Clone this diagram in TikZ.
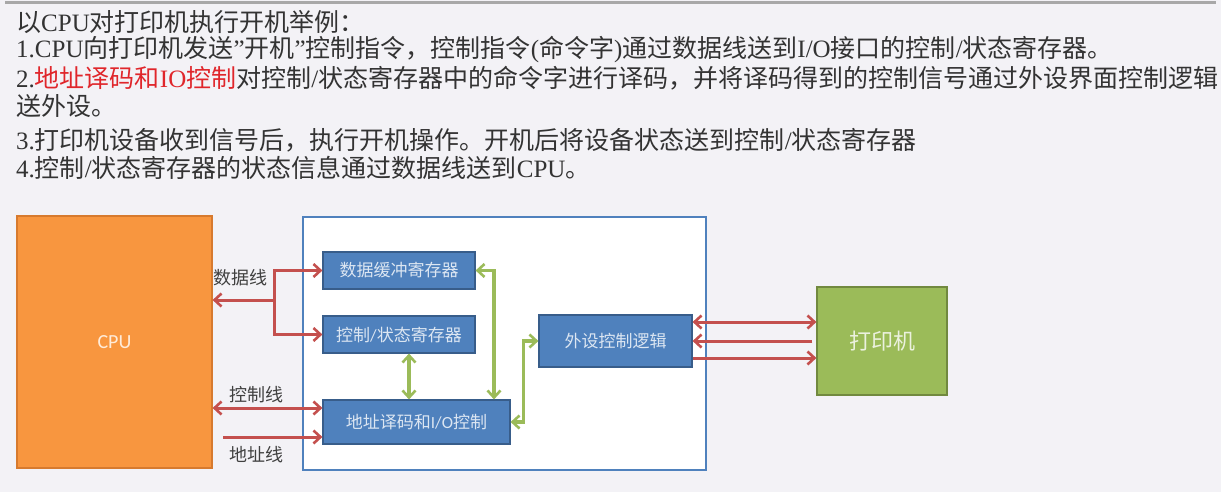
\documentclass[tikz,border=0pt]{standalone}
\usepackage{fontspec}
\setmainfont{Liberation Serif}
\newfontfamily\cjk{Noto Sans CJK SC}
\newfontfamily\sansf{Carlito}
\usetikzlibrary{arrows.meta}
\definecolor{bg}{HTML}{F3F2F6}
\definecolor{rulec}{HTML}{A8A8A8}
\definecolor{txtc}{HTML}{333333}
\definecolor{hl}{HTML}{E0262B}
\definecolor{cpuf}{HTML}{F8963F}
\definecolor{cpud}{HTML}{D77A2E}
\definecolor{cputxt}{HTML}{FFEBD9}
\definecolor{bluef}{HTML}{4F81BD}
\definecolor{blued}{HTML}{385D8A}
\definecolor{bluetxt}{HTML}{DCE6F2}
\definecolor{greenf}{HTML}{9BBB59}
\definecolor{greend}{HTML}{71893F}
\definecolor{greentxt}{HTML}{EBF1DE}
\definecolor{redl}{HTML}{C4504E}
\definecolor{greenl}{HTML}{9BBB59}
\definecolor{ifc}{HTML}{4F81BD}
\definecolor{lblc}{HTML}{404040}
\tikzset{
  barb/.tip={Straight Barb[length=7pt,width=13pt,line width=2.6pt]},
  txtline/.style={anchor=west, inner sep=0pt, text=txtc, font=\fontsize{25}{25}\selectfont},
  bluebox/.style={draw=blued, fill=bluef, line width=1.2pt, inner sep=0pt, text=bluetxt, font=\fontsize{17}{17}\selectfont},
  redline/.style={draw=redl, line width=3pt, arrows={-barb}},
  redboth/.style={redline, arrows={barb-barb}},
  greenboth/.style={draw=greenl, line width=3.2pt, arrows={barb-barb}},
  lbl/.style={inner sep=0pt, text=lblc, font=\cjk\fontsize{18}{18}\selectfont}
}
\begin{document}
\begin{tikzpicture}[x=1pt,y=-1pt]
\fill[bg] (0,0) rectangle (1221,492);
\useasboundingbox (0,0) rectangle (1221,492);
\draw[rulec, line width=3pt] (5,3) -- (1216,3);

% text lines
\node[txtline] (l1) at (16,22) {{\cjk 以}CPU{\cjk 对打印机执行开机举例：}};
\node[txtline] (l2) at (16,50) {1.CPU{\cjk 向打印机发送}”{\cjk 开机}”{\cjk 控制指令，控制指令}({\cjk 命令字}){\cjk 通过数据线送到}I/O{\cjk 接口的控制}/{\cjk 状态寄存器。}};
\node[txtline] (l3) at (16,78) {2.{\color{hl}{\cjk 地址译码和}IO{\cjk 控制}}{\cjk 对控制}/{\cjk 状态寄存器中的命令字进行译码，并将译码得到的控制信号通过外设界面控制逻辑}};
\node[txtline] (l4) at (16,106) {{\cjk 送外设。}};
\node[txtline] (l5) at (16,140) {3.{\cjk 打印机设备收到信号后，执行开机操作。开机后将设备状态送到控制}/{\cjk 状态寄存器}};
\node[txtline] (l6) at (16,168) {4.{\cjk 控制}/{\cjk 状态寄存器的状态信息通过数据线送到}CPU{\cjk 。}};

% boxes
\node[draw=cpud, fill=cpuf, line width=1.2pt, minimum width=195pt, minimum height=252pt, inner sep=0pt, text=cputxt, font=\sansf\fontsize{20}{20}\selectfont] (cpu) at (114.5,342) {CPU};
\node[draw=ifc, fill=white, line width=1.5pt, minimum width=403pt, minimum height=253pt, inner sep=0pt] (iface) at (504.5,343.5) {};
\node[bluebox, minimum width=152pt, minimum height=37pt] (dbuf) at (399,270.5) {\cjk 数据缓冲寄存器};
\node[bluebox, minimum width=152pt, minimum height=37pt] (csr) at (399,334.5) {{\cjk 控制}{\sansf /}{\cjk 状态寄存器}};
\node[bluebox, minimum width=187pt, minimum height=44pt] (addr) at (416.5,422) {{\cjk 地址译码和}{\sansf I/O}{\cjk 控制}};
\node[bluebox, minimum width=153pt, minimum height=52pt] (pcl) at (615.5,341) {\cjk 外设控制逻辑};
\node[draw=greend, fill=greenf, line width=1.2pt, minimum width=130pt, minimum height=108pt, inner sep=0pt, text=greentxt, font=\cjk\fontsize{22}{22}\selectfont] (prn) at (882,341) {打印机};

% red connectors (CPU side)
\coordinate (dj) at (274,300);
\draw[redline] (dj) |- (dbuf.west);
\draw[redline] (dj) |- (csr.west);
\draw[redline] (dj) -- (cpu.east |- dj);
\coordinate (ctl) at ([yshift=14pt]addr.west);
\draw[redboth] (cpu.east |- ctl) -- (ctl);
\coordinate (adr) at ([yshift=-15pt]addr.west);
\coordinate (adrs) at (223,437);
\draw[redline] (adrs) -- (adr);

\node[lbl] (tdata) at (240.5,278) {数据线};
\node[lbl] (tctl) at (256.5,395) {控制线};
\node[lbl] (taddr) at (256.5,455) {地址线};

% green connectors
\draw[greenboth] ([xshift=10pt]csr.south) -- ([xshift=10pt]csr.south |- addr.north);
\draw[greenboth] (dbuf.east) -| ([xshift=77.5pt]addr.north);
\draw[greenboth] (addr.east) -- ++(13,0) |- (pcl.west);

% red connectors (printer side)
\coordinate (p1) at ([yshift=19pt]pcl.east);
\draw[redboth] (p1) -- (p1 -| prn.west);
\draw[redline] ([xshift=-4pt]prn.west) -- (pcl.east);
\coordinate (p3) at ([yshift=-17pt]pcl.east);
\draw[redline] (p3) -- (p3 -| prn.west);
\end{tikzpicture}
\end{document}
